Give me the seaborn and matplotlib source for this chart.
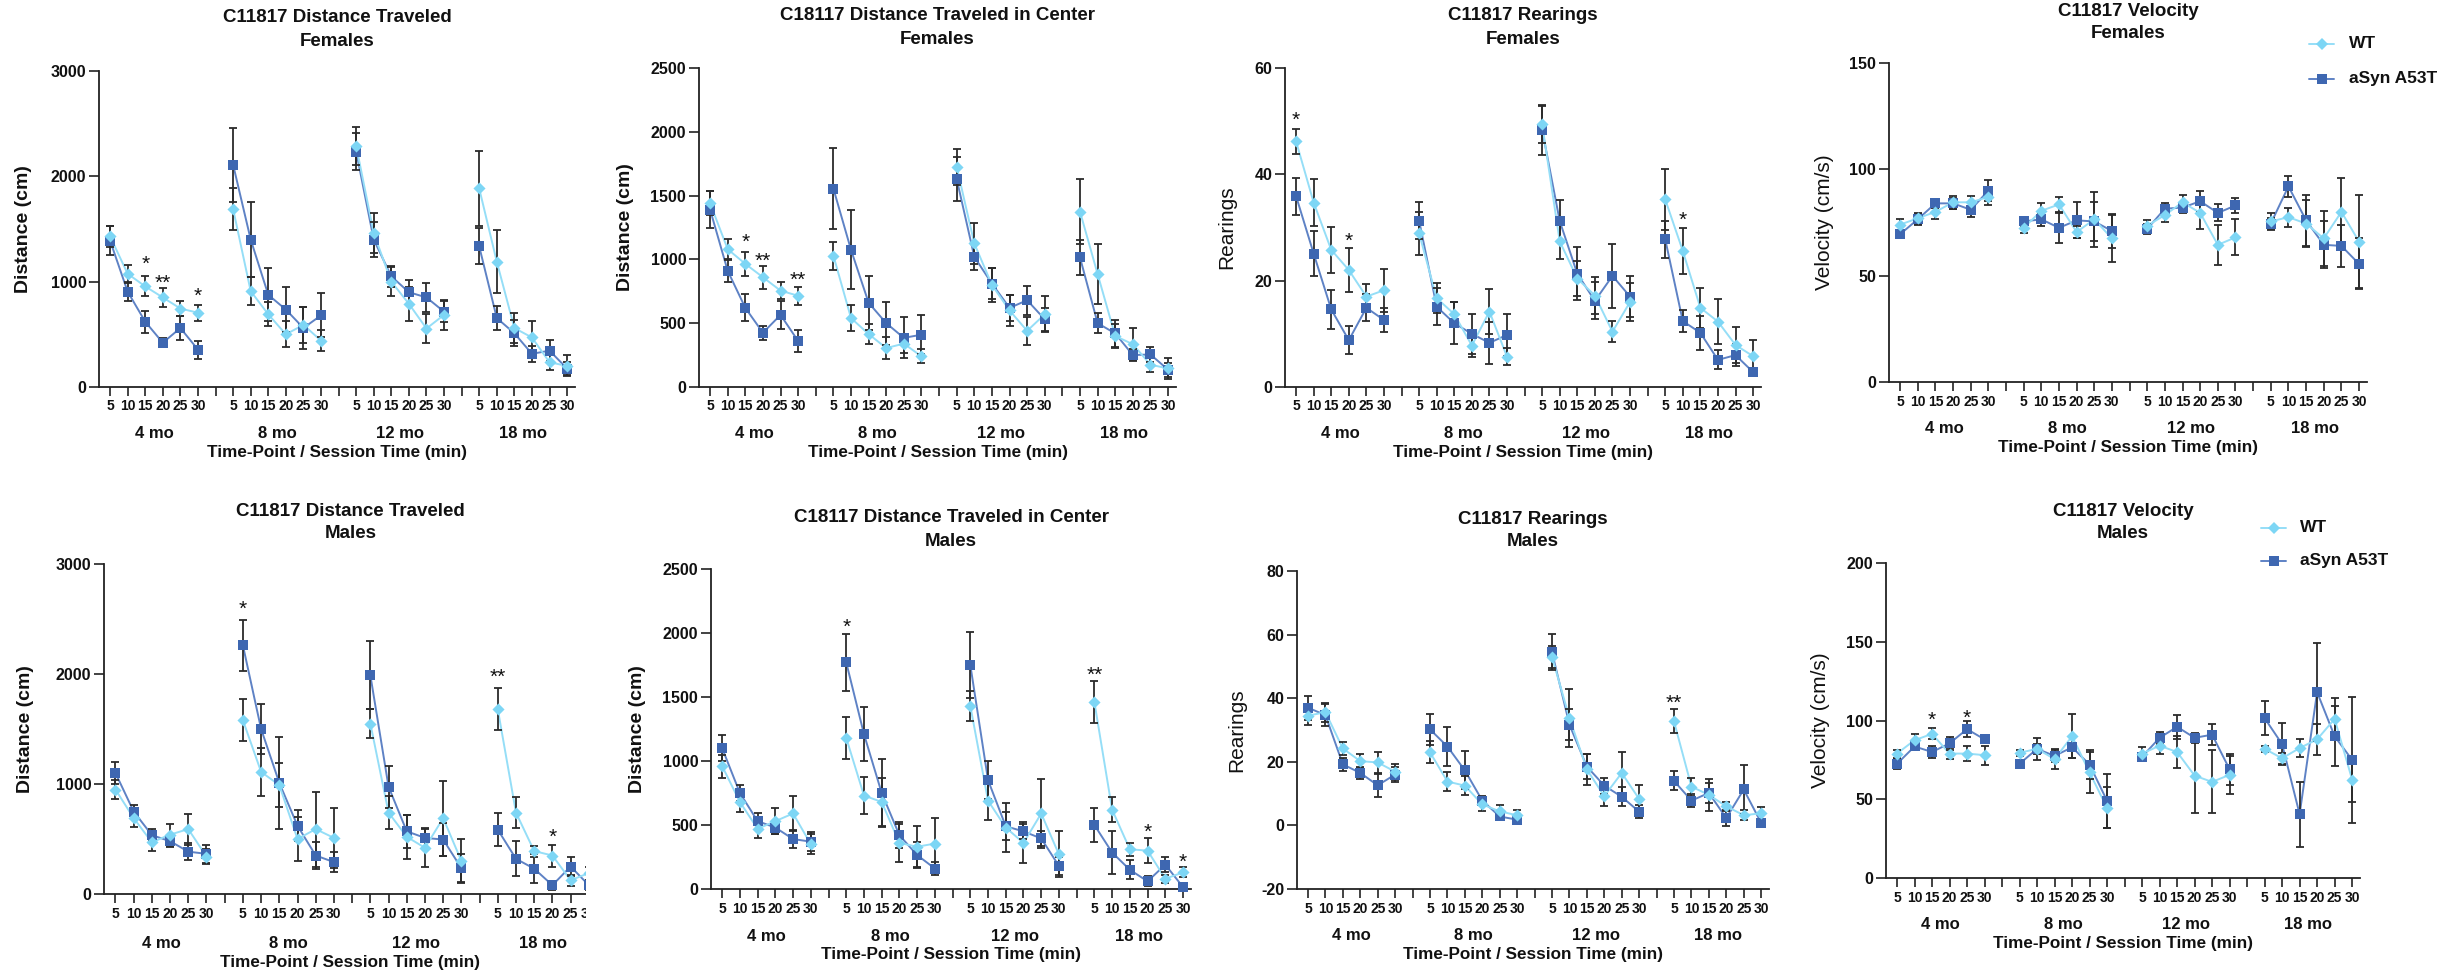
import numpy as np
import pandas as pd
import matplotlib
matplotlib.use("Agg")
import matplotlib.pyplot as plt
from matplotlib.lines import Line2D
from matplotlib.patches import Rectangle
import seaborn as sns

# ---------------------------------------------------------------- data
ages = ["4 mo", "8 mo", "12 mo", "18 mo"]
session_times = [5, 10, 15, 20, 25, 30]
genotypes = ["WT", "aSyn A53T"]

# Distance traveled, females (cm): 4 ages x 6 session bins
dist_f_wt = [1430, 1075, 955, 850, 745, 705,
             1690, 910, 690, 500, 590, 440,
             2290, 1460, 1000, 790, 555, 685,
             1885, 1190, 560, 470, 235, 200]
dist_f_wt_sem = [100, 80, 95, 90, 70, 75,
                 200, 130, 115, 125, 170, 100,
                 180, 190, 140, 160, 140, 140,
                 360, 300, 140, 160, 75, 100]
dist_f_tg = [1390, 905, 620, 420, 560, 355,
             2110, 1400, 875, 735, 560, 680,
             2235, 1400, 1050, 900, 850, 715,
             1335, 655, 510, 315, 345, 175]
dist_f_tg_sem = [140, 85, 105, 45, 110, 85,
                 350, 355, 250, 210, 200, 210,
                 175, 165, 100, 115, 140, 100,
                 170, 115, 125, 75, 100, 60]
dist_f_stars = [("4 mo", 15, "*", 1222), ("4 mo", 20, "**", 1048), ("4 mo", 30, "*", 922)]

# Distance traveled in center, females (cm)
center_f_wt = [1440, 1080, 965, 860, 755, 715,
               1030, 540, 415, 305, 340, 240,
               1725, 1125, 800, 600, 440, 570,
               1375, 885, 400, 335, 175, 145]
center_f_wt_sem = [95, 80, 95, 90, 65, 70,
                   110, 100, 75, 85, 70, 55,
                   140, 160, 130, 120, 110, 140,
                   255, 235, 95, 125, 55, 80]
center_f_tg = [1390, 910, 620, 425, 565, 360,
               1555, 1075, 660, 500, 385, 410,
               1630, 1020, 810, 620, 680, 530,
               1015, 500, 420, 250, 255, 135]
center_f_tg_sem = [145, 85, 105, 55, 110, 85,
                   320, 310, 210, 170, 160, 155,
                   170, 100, 120, 100, 115, 90,
                   135, 80, 105, 50, 60, 55]
center_f_stars = [("4 mo", 15, "*", 1188), ("4 mo", 20, "**", 1032), ("4 mo", 30, "**", 888)]

# Rearings, females (count)
rear_f_wt = [46.2, 34.7, 25.8, 22.0, 17.0, 18.2,
             28.9, 16.7, 13.7, 7.8, 14.2, 5.7,
             49.4, 27.4, 20.4, 17.2, 10.4, 16.0,
             35.3, 25.6, 14.9, 12.3, 7.9, 5.8]
rear_f_wt_sem = [2.3, 4.5, 4.3, 4.1, 2.4, 4.0,
                 4.0, 2.8, 2.2, 2.2, 4.3, 1.6,
                 3.5, 3.4, 3.3, 3.5, 2.0, 3.5,
                 5.7, 4.3, 3.8, 4.3, 3.3, 3.0]
rear_f_tg = [35.9, 25.1, 14.6, 8.8, 14.9, 12.6,
             31.3, 15.1, 12.0, 10.0, 8.3, 9.8,
             48.4, 31.2, 21.3, 16.2, 20.9, 17.0,
             27.8, 12.4, 10.2, 5.1, 6.0, 2.8]
rear_f_tg_sem = [3.5, 4.3, 3.7, 2.6, 2.5, 2.3,
                 3.5, 3.5, 4.0, 3.8, 4.0, 4.0,
                 4.7, 4.0, 5.0, 3.5, 6.0, 3.8,
                 3.5, 2.1, 3.2, 1.8, 2.0, 0.8]
rear_f_stars = [("4 mo", 5, "*", 51.3), ("4 mo", 20, "*", 28.7), ("18 mo", 10, "*", 32.6)]

# Velocity, females (cm/s)
vel_f_wt = [74, 77, 80, 84.5, 84.5, 87,
            72.5, 80.5, 83.5, 70.5, 76.5, 67.5,
            73.5, 78.5, 84.5, 79.5, 64.5, 68,
            75.5, 77.5, 74.5, 67.5, 80, 66]
vel_f_wt_sem = [2.5, 2.5, 3.5, 3, 3, 4,
                2.5, 3.5, 3.5, 3, 13, 11,
                2.5, 3.5, 3.5, 7.5, 9.5, 8.5,
                4, 4.5, 11, 13, 16, 22]
vel_f_tg = [69.5, 76.5, 84, 84, 81, 90,
            75.5, 76.5, 72.5, 76, 75.5, 71,
            72, 81.5, 82, 85, 79.5, 83,
            74.5, 92, 76, 64.5, 64, 55.5]
vel_f_tg_sem = [2, 2.5, 2, 2.5, 3.5, 5,
                2, 3, 7, 8.5, 9, 8,
                2.5, 2.5, 2.5, 5, 4, 3.5,
                2.5, 5, 12, 11, 10, 12]
vel_f_stars = []

# Distance traveled, males (cm)
dist_m_wt = [950, 690, 470, 540, 590, 340,
             1580, 1110, 990, 500, 590, 510,
             1550, 740, 520, 420, 690, 300,
             1680, 740, 390, 350, 125, 190]
dist_m_wt_sem = [85, 80, 75, 100, 140, 70,
                 190, 220, 200, 200, 340, 270,
                 130, 150, 200, 170, 340, 200,
                 190, 140, 50, 100, 50, 60]
dist_m_tg = [1100, 750, 535, 480, 385, 365,
             2260, 1500, 1010, 620, 350, 290,
             1990, 975, 570, 510, 495, 235,
             585, 320, 230, 80, 250, 80]
dist_m_tg_sem = [100, 60, 55, 50, 80, 80,
                 230, 230, 420, 140, 120, 90,
                 310, 190, 150, 90, 150, 130,
                 150, 160, 130, 40, 85, 40]
dist_m_stars = [("8 mo", 5, "*", 2645), ("18 mo", 5, "**", 2030), ("18 mo", 20, "*", 576)]

# Distance traveled in center, males (cm)
center_m_wt = [960, 680, 470, 530, 590, 350,
               1180, 730, 680, 360, 330, 355,
               1430, 690, 480, 360, 590, 270,
               1460, 620, 310, 300, 80, 130]
center_m_wt_sem = [90, 80, 70, 100, 140, 80,
                   165, 145, 190, 150, 160, 200,
                   120, 150, 190, 160, 270, 180,
                   165, 100, 50, 95, 30, 40]
center_m_tg = [1100, 750, 530, 480, 390, 370,
               1770, 1210, 750, 420, 265, 160,
               1750, 850, 490, 450, 395, 180,
               500, 285, 150, 60, 190, 15]
center_m_tg_sem = [100, 60, 60, 50, 70, 75,
                   220, 210, 265, 100, 100, 50,
                   260, 150, 110, 60, 60, 70,
                   135, 165, 75, 40, 60, 15]
center_m_stars = [("8 mo", 5, "*", 2096), ("18 mo", 5, "**", 1723),
                  ("18 mo", 20, "*", 496), ("18 mo", 30, "*", 261)]

# Rearings, males (count)
rear_m_wt = [34.5, 35.6, 24.2, 20.2, 19.8, 16.9,
             23.0, 13.8, 12.5, 6.6, 4.4, 3.2,
             53.0, 33.8, 17.6, 9.2, 16.5, 8.3,
             32.7, 12.2, 9.6, 6.0, 3.2, 3.8]
rear_m_wt_sem = [3.0, 3.0, 2.0, 2.3, 3.3, 2.5,
                 3.5, 3.0, 3.0, 2.2, 2.0, 1.8,
                 3.5, 9.0, 4.8, 3.0, 6.5, 4.5,
                 3.8, 2.8, 5.0, 1.5, 1.5, 2.0]
rear_m_tg = [37.0, 34.7, 19.2, 16.5, 12.6, 16.0,
             30.2, 24.8, 17.3, 7.8, 2.8, 1.8,
             54.5, 31.7, 18.5, 12.5, 9.0, 4.3,
             14.0, 7.8, 10.2, 2.3, 11.3, 0.8]
rear_m_tg_sem = [3.7, 3.5, 2.0, 1.8, 3.7, 2.5,
                 4.8, 6.2, 6.0, 1.5, 0.8, 0.5,
                 5.7, 5.0, 4.0, 2.5, 3.0, 2.0,
                 3.0, 2.0, 3.0, 2.5, 7.6, 0.8]
rear_m_stars = [("18 mo", 5, "**", 40.4)]

# Velocity, males (cm/s)
vel_m_wt = [79, 87.5, 91.5, 79, 79, 78,
            79.5, 82, 75.5, 90, 67, 44.5,
            79, 84, 80, 65, 61, 65.5,
            82, 76, 82.5, 88, 101, 62.5]
vel_m_wt_sem = [2.5, 4, 3.5, 3.5, 4.5, 6,
                2, 3, 6.5, 14, 13, 13,
                4, 5, 10, 24, 20, 12,
                2, 3.5, 5.5, 10, 13, 14]
vel_m_tg = [72.5, 83.5, 80, 85.5, 94.5, 88,
            72.5, 82, 77.5, 83, 72, 49,
            77, 89, 96, 89, 91, 69,
            101.5, 85, 40.5, 118, 90, 75]
vel_m_tg_sem = [3, 2.5, 3.5, 4, 5, 2.5,
                2, 7, 4, 6.5, 9, 17,
                2.5, 4, 7.5, 3, 6.5, 10,
                10.7, 13.5, 20.5, 31, 19, 40]
vel_m_stars = [("4 mo", 15, "*", 104.5), ("4 mo", 25, "*", 105.4)]


def long_table(wt, wt_sem, tg, tg_sem):
    rows = []
    for geno, means, sems in (("WT", wt, wt_sem), ("aSyn A53T", tg, tg_sem)):
        for i, (m, s) in enumerate(zip(means, sems)):
            a, t = divmod(i, len(session_times))
            rows.append(dict(genotype=geno, age=ages[a], time=session_times[t],
                             pos=a * (len(session_times) + 1) + t, mean=m, sem=s))
    return pd.DataFrame(rows)


# ---------------------------------------------------------------- style
sns.set_theme(style="ticks")
plt.rcParams["font.family"] = ["Liberation Sans", "DejaVu Sans"]
plt.rcParams["text.color"] = "#111111"
plt.rcParams["axes.edgecolor"] = "#222222"

WT_LINE, WT_MARK = "#95DEF7", "#7DD6F5"
TG_LINE, TG_MARK = "#5E82C5", "#3E67B1"
ERR = "#2B2B2B"
STYLE = {"WT": (WT_LINE, WT_MARK, "D", 38), "aSyn A53T": (TG_LINE, TG_MARK, "s", 42)}

W, H = 2448, 972
fig = plt.figure(figsize=(W / 100, H / 100), dpi=100)
fig.patch.set_facecolor("white")

PT = 0.72  # points per pixel at 100 dpi

panels = [
    dict(title=("C11817 Distance Traveled", "Females"), ylabel="Distance (cm)", ybold=True,
         data=(dist_f_wt, dist_f_wt_sem, dist_f_tg, dist_f_tg_sem), stars=dist_f_stars,
         ylim=(0, 3000), yticks=[0, 1000, 2000, 3000],
         box=(99, 575, 71, 387), title_y=(18, 42), ylabel_x=24, offs=(46, 65)),
    dict(title=("C18117 Distance Traveled in Center", "Females"), ylabel="Distance (cm)", ybold=True,
         data=(center_f_wt, center_f_wt_sem, center_f_tg, center_f_tg_sem), stars=center_f_stars,
         ylim=(0, 2500), yticks=[0, 500, 1000, 1500, 2000, 2500],
         box=(699, 1176, 68, 387), title_y=(16, 39), ylabel_x=626, offs=(46, 65)),
    dict(title=("C11817 Rearings", "Females"), ylabel="Rearings", ybold=False,
         data=(rear_f_wt, rear_f_wt_sem, rear_f_tg, rear_f_tg_sem), stars=rear_f_stars,
         ylim=(0, 60), yticks=[0, 20, 40, 60],
         box=(1285, 1761, 68, 387), title_y=(16, 39), ylabel_x=1227, offs=(46, 65)),
    dict(title=("C11817 Velocity", "Females"), ylabel="Velocity (cm/s)", ybold=False,
         data=(vel_f_wt, vel_f_wt_sem, vel_f_tg, vel_f_tg_sem), stars=vel_f_stars,
         ylim=(0, 150), yticks=[0, 50, 100, 150],
         box=(1889, 2367, 63, 382), title_y=(12, 34), ylabel_x=1824, offs=(46, 65)),
    dict(title=("C11817 Distance Traveled", "Males"), ylabel="Distance (cm)", ybold=True,
         data=(dist_m_wt, dist_m_wt_sem, dist_m_tg, dist_m_tg_sem), stars=dist_m_stars,
         ylim=(0, 3000), yticks=[0, 1000, 2000, 3000],
         box=(104, 597, 564, 894), title_y=(511, 534), ylabel_x=26, offs=(49, 68)),
    dict(title=("C18117 Distance Traveled in Center", "Males"), ylabel="Distance (cm)", ybold=True,
         data=(center_m_wt, center_m_wt_sem, center_m_tg, center_m_tg_sem), stars=center_m_stars,
         ylim=(0, 2500), yticks=[0, 500, 1000, 1500, 2000, 2500],
         box=(711, 1191, 569, 889), title_y=(518, 541), ylabel_x=638, offs=(47, 65)),
    dict(title=("C11817 Rearings", "Males"), ylabel="Rearings", ybold=False,
         data=(rear_m_wt, rear_m_wt_sem, rear_m_tg, rear_m_tg_sem), stars=rear_m_stars,
         ylim=(-20, 80), yticks=[-20, 0, 20, 40, 60, 80],
         box=(1297, 1769, 571, 889), title_y=(519, 542), ylabel_x=1237, offs=(46, 65)),
    dict(title=("C11817 Velocity", "Males"), ylabel="Velocity (cm/s)", ybold=False,
         data=(vel_m_wt, vel_m_wt_sem, vel_m_tg, vel_m_tg_sem), stars=vel_m_stars,
         ylim=(0, 200), yticks=[0, 50, 100, 150, 200],
         box=(1886, 2360, 563, 878), title_y=(511, 534), ylabel_x=1821, offs=(46, 65)),
]

n_pos = len(ages) * (len(session_times) + 1) - 1
tick_labels = []
for a in range(len(ages)):
    tick_labels += [str(t) for t in session_times]
    if a < len(ages) - 1:
        tick_labels.append("")

for spec in panels:
    l, r, t, b = spec["box"]
    ax = fig.add_axes([l / W, 1 - b / H, (r - l) / W, (b - t) / H])
    df = long_table(*spec["data"])

    for geno in ["aSyn A53T", "WT"]:
        lc, mc, mk, ms = STYLE[geno]
        sub = df[df.genotype == geno]
        sns.lineplot(data=sub, x="pos", y="mean", units="age", estimator=None,
                     color=lc, linewidth=1.4, ax=ax, legend=False, zorder=2)
        cont = ax.errorbar(sub["pos"], sub["mean"], yerr=sub["sem"], fmt="none",
                           ecolor=ERR, elinewidth=1.3, capsize=3.2, capthick=1.3, zorder=2.5)
        for art in list(cont.lines[1]) + list(cont.lines[2]):
            art.set_clip_on(False)
        sns.scatterplot(data=sub, x="pos", y="mean", marker=mk, color=mc, s=ms,
                        linewidth=0, ax=ax, legend=False, zorder=3, clip_on=False)

    ax.set_xlim(-0.63, 26.45)
    ax.set_ylim(*spec["ylim"])
    ax.set_yticks(spec["yticks"])
    ax.set_yticklabels([str(v) for v in spec["yticks"]])
    ax.set_xticks(range(n_pos))
    ax.set_xticklabels(tick_labels)
    ax.set_xlabel("")
    ax.set_ylabel("")
    sns.despine(ax=ax)
    for side in ("left", "bottom"):
        ax.spines[side].set_linewidth(1.3)
        ax.spines[side].set_color("#222222")
    ax.tick_params(axis="y", length=7, width=1.2, pad=2.2, labelsize=11.5, colors="#222222")
    ax.tick_params(axis="x", length=6.5, width=1.2, pad=2.5, labelsize=10, colors="#222222")
    for lbl in ax.get_xticklabels() + ax.get_yticklabels():
        lbl.set_fontweight("bold")
        lbl.set_color("#111111")

    # age group labels and axis title under the ticks
    g_off, x_off = spec["offs"]
    xt = ax.get_xaxis_transform()
    for a, age in enumerate(ages):
        ax.annotate(age, xy=(a * 7 + 2.5, 0), xycoords=xt, xytext=(0, -g_off * PT),
                    textcoords="offset points", ha="center", va="center",
                    fontsize=12, fontweight="bold", annotation_clip=False)
    ax.annotate("Time-Point / Session Time (min)", xy=(0.5, 0), xycoords="axes fraction",
                xytext=(0, -x_off * PT), textcoords="offset points", ha="center",
                va="center", fontsize=12.3, fontweight="bold", annotation_clip=False)

    # significance marks
    for age, tm, txt, yv in spec["stars"]:
        p = ages.index(age) * 7 + session_times.index(tm)
        ax.annotate(txt, xy=(p, yv), xytext=(0, -8.6), textcoords="offset points",
                    ha="center", va="baseline", fontsize=15, annotation_clip=False)

    # two-line title and y label
    cx = (l + r) / 2 / W
    fig.text(cx, 1 - spec["title_y"][0] / H, spec["title"][0], ha="center", va="center",
             fontsize=13.5, fontweight="bold")
    fig.text(cx, 1 - spec["title_y"][1] / H, spec["title"][1], ha="center", va="center",
             fontsize=13.5, fontweight="bold")
    fig.text(spec["ylabel_x"] / W, 1 - (t + b) / 2 / H, spec["ylabel"], rotation=90,
             ha="center", va="center", fontsize=14 if spec["ybold"] else 15,
             fontweight="bold" if spec["ybold"] else "normal")

# the male distance panel is trimmed on its right edge by the neighbouring panel
fig.add_artist(Rectangle((586 / W, 0), 38 / W, 1 - 545 / H, transform=fig.transFigure,
                         facecolor="white", edgecolor="none", zorder=10))


def legend_entries(x0, x1, xt, ys):
    for geno, y in zip(genotypes, ys):
        lc, mc, mk, ms = STYLE[geno]
        yy = 1 - y / H
        fig.add_artist(Line2D([x0 / W, x1 / W], [yy, yy], color=lc, lw=1.4,
                              transform=fig.transFigure))
        fig.add_artist(Line2D([(x0 + x1) / 2 / W], [yy], marker=mk, markersize=np.sqrt(ms),
                              color=mc, markeredgewidth=0, linestyle="none",
                              transform=fig.transFigure))
        fig.text(xt / W, yy, geno, ha="left", va="center", fontsize=12.5, fontweight="bold")


legend_entries(2309, 2334, 2349, (44, 79))
legend_entries(2261, 2286, 2300, (528, 561))

fig.savefig("out.png", dpi=100, facecolor="white")
